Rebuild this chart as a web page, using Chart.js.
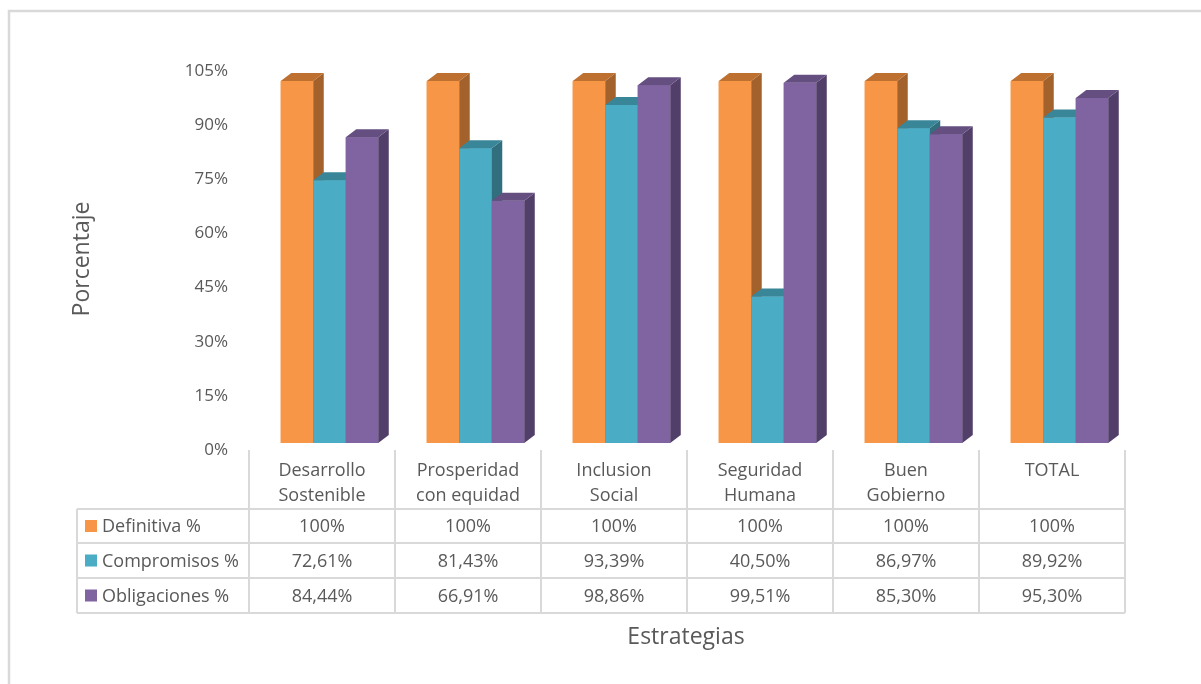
<!DOCTYPE html>
<html>
<head>
<meta charset="utf-8">
<script src="https://cdn.jsdelivr.net/npm/chart.js@4.4.1/dist/chart.umd.min.js"></script>
<style>
  html, body { margin: 0; padding: 0; background: #fff; }
  #wrap { width: 1201px; height: 684px; position: relative; }
</style>
</head>
<body>
<div id="wrap"><canvas id="chart"></canvas></div>
<script>
// data
const categories = [['Desarrollo', 'Sostenible'], ['Prosperidad', 'con equidad'], ['Inclusion', 'Social'], ['Seguridad', 'Humana'], ['Buen', 'Gobierno'], ['TOTAL']]
const seriesNames = ['Definitiva %', 'Compromisos %', 'Obligaciones %']
const definitiva = [100, 100, 100, 100, 100, 100]
const compromisos = [72.61, 81.43, 93.39, 40.50, 86.97, 89.92]
const obligaciones = [84.44, 66.91, 98.86, 99.51, 85.30, 95.30]
const yTicks = [0, 15, 30, 45, 60, 75, 90, 105]

const textColor = '#595959'
const font = '"Open Sans", sans-serif'
const gridColor = '#D9D9D9'
const shift = 7.5   // bars' front faces sit a bit right of the table columns
const dx = 10.5, dy = 8

const fmt = v => Number.isInteger(v) ? v + '%' : v.toFixed(2).replace('.', ',') + '%'

// redraw every bar as a box: front, side, top, series in order left to right
const depth = {
  id: 'depth',
  afterDatasetsDraw(chart) {
    const ctx = chart.ctx
    ctx.save()
    chart.data.datasets.forEach((ds, i) => {
      chart.getDatasetMeta(i).data.forEach(bar => {
        const { x, y, base, width } = bar.getProps(['x', 'y', 'base', 'width'], true)
        const l = x - width / 2, r = x + width / 2
        ctx.fillStyle = ds.backgroundColor
        ctx.fillRect(l, y, width, base - y)
        ctx.fillStyle = ds.sideColor
        ctx.beginPath()
        ctx.moveTo(r, y); ctx.lineTo(r + dx, y - dy); ctx.lineTo(r + dx, base - dy); ctx.lineTo(r, base)
        ctx.closePath(); ctx.fill()
        ctx.fillStyle = ds.topColor
        ctx.beginPath()
        ctx.moveTo(l, y); ctx.lineTo(l + dx, y - dy); ctx.lineTo(r + dx, y - dy); ctx.lineTo(r, y)
        ctx.closePath(); ctx.fill()
      })
    })
    ctx.restore()
  }
}

const frame = {
  id: 'frame',
  beforeDraw(chart) {
    const ctx = chart.ctx
    ctx.save()
    ctx.fillStyle = '#fff'
    ctx.fillRect(0, 0, chart.width, chart.height)
    ctx.strokeStyle = gridColor
    ctx.lineWidth = 2.5
    ctx.strokeRect(9, 11, 1400, 900)
    ctx.restore()
  }
}

const table = {
  id: 'table',
  afterDraw(chart) {
    const ctx = chart.ctx
    const xs = chart.scales.x
    const step = xs.width / categories.length
    const colL = i => xs.getPixelForValue(0) - step / 2 - shift + i * step
    const top = chart.chartArea.bottom
    const rows = [509, 543, 578, 613]
    const legendL = 77
    const series = chart.data.datasets
    ctx.save()
    ctx.strokeStyle = gridColor
    ctx.lineWidth = 2
    ctx.beginPath()
    for (let i = 0; i <= categories.length; i++) {
      ctx.moveTo(colL(i), top); ctx.lineTo(colL(i), rows[3])
    }
    ctx.moveTo(legendL, rows[0]); ctx.lineTo(legendL, rows[3])
    rows.forEach(r => { ctx.moveTo(legendL, r); ctx.lineTo(colL(categories.length), r) })
    ctx.stroke()

    ctx.fillStyle = textColor
    ctx.font = '18px ' + font
    ctx.textAlign = 'center'
    ctx.textBaseline = 'middle'
    categories.forEach((c, i) => {
      const cx = colL(i) + step / 2
      c.forEach((line, k) => ctx.fillText(line, cx, 471 + k * 25))
      series.forEach((ds, s) => {
        ctx.fillText(fmt(ds.data[i]), cx, (rows[s] + rows[s + 1]) / 2 + 1)
      })
    })
    ctx.textAlign = 'left'
    series.forEach((ds, s) => {
      const cy = (rows[s] + rows[s + 1]) / 2
      ctx.fillStyle = ds.backgroundColor
      ctx.fillRect(85, cy - 6, 12, 12)
      ctx.fillStyle = textColor
      ctx.fillText(ds.label, 102, cy + 1)
    })

    ctx.font = '23px ' + font
    ctx.textAlign = 'center'
    ctx.fillText('Estrategias', 686, 637)
    ctx.translate(82, 259)
    ctx.rotate(-Math.PI / 2)
    ctx.fillText('Porcentaje', 0, 0)
    ctx.restore()
  }
}

const bars = (label, data, color, side, topC) => ({
  label: label,
  data: data,
  yAxisID: 'yb',
  backgroundColor: color,
  sideColor: side,
  topColor: topC,
  borderWidth: 0,
  categoryPercentage: 0.668,
  barPercentage: 1,
  clip: false
})

new Chart(document.getElementById('chart'), {
  type: 'bar',
  data: {
    labels: categories.map(c => c.join(' ')),
    datasets: [
      bars(seriesNames[0], definitiva, '#F79646', '#A3612B', '#BE7030'),
      bars(seriesNames[1], compromisos, '#4BACC6', '#316F7F', '#3A8699'),
      bars(seriesNames[2], obligaciones, '#8064A2', '#523F69', '#644F80')
    ]
  },
  options: {
    responsive: true,
    maintainAspectRatio: false,
    animation: false,
    layout: { padding: { left: 0, right: 68.5, top: 71, bottom: 234 } },
    plugins: { legend: { display: false }, tooltip: { enabled: false } },
    scales: {
      x: { display: false },
      y: {
        position: 'left',
        min: 0,
        max: 105,
        afterBuildTicks: s => { s.ticks = yTicks.map(v => ({ value: v })) },
        afterFit: s => { s.width = 256.5 },
        grid: { display: false, drawTicks: false },
        border: { display: false },
        ticks: {
          padding: 28.5,
          color: textColor,
          font: { family: font, size: 17 },
          callback: v => v + '%'
        }
      },
      yb: { display: false, min: -1.934, max: 102.77 }
    }
  },
  plugins: [frame, depth, table]
})
</script>
</body>
</html>
